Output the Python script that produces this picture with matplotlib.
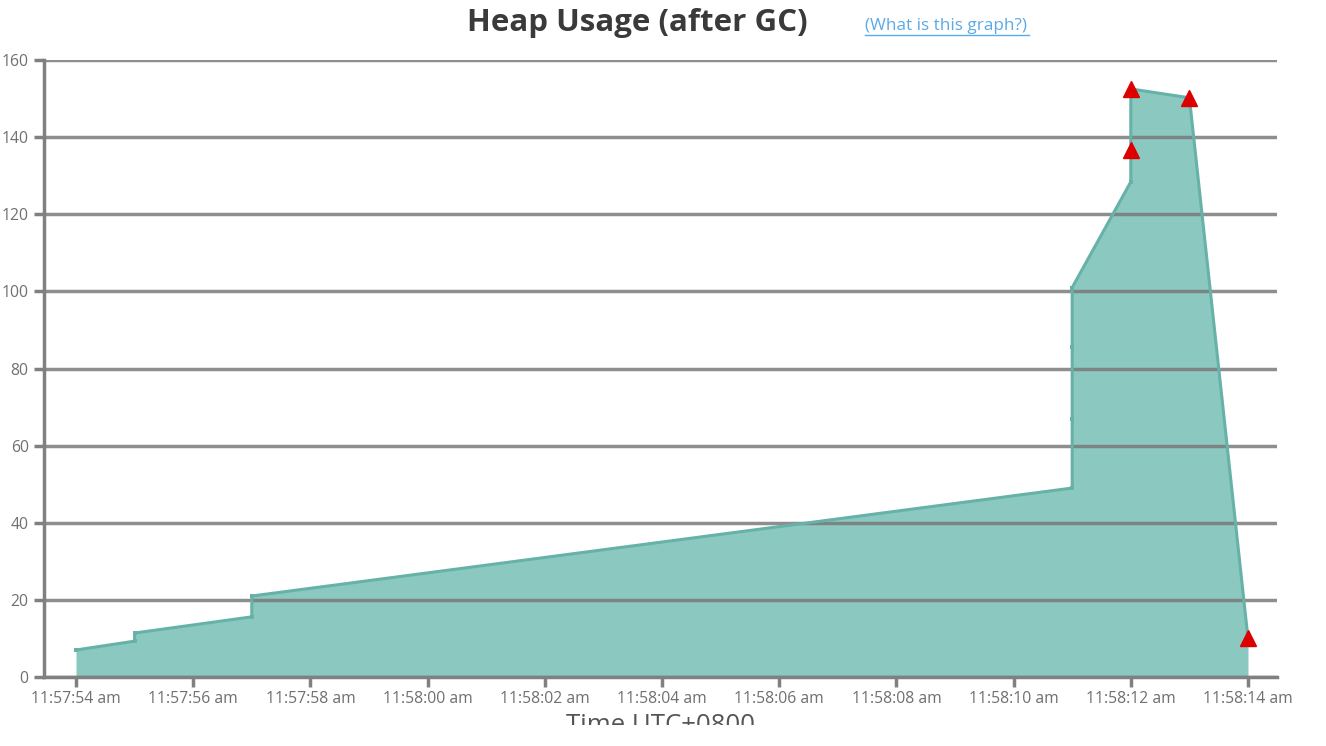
import matplotlib
matplotlib.use("Agg")
import matplotlib.pyplot as plt
from matplotlib.patches import Rectangle

# Data: seconds after 11:57:54, heap usage (MB)
t_sec = [0, 1, 1, 3, 3, 17, 17, 17, 17, 18, 18, 18, 19, 20]
heap = [7.0, 9.3, 11.4, 15.6, 21.0, 49.0, 67.0, 85.6, 101.0, 128.4, 136.7, 152.5, 150.2, 10.0]
full_gc_t = [18, 18, 19, 20]
full_gc_heap = [136.7, 152.5, 150.2, 10.0]
xtick_secs = [0, 2, 4, 6, 8, 10, 12, 14, 16, 18, 20]
xtick_labels = ["11:57:54 am", "11:57:56 am", "11:57:58 am", "11:58:00 am",
                "11:58:02 am", "11:58:04 am", "11:58:06 am", "11:58:08 am",
                "11:58:10 am", "11:58:12 am", "11:58:14 am"]
ytick_vals = [0, 20, 40, 60, 80, 100, 120, 140, 160]

plt.rcParams['font.family'] = ['Open Sans', 'DejaVu Sans']

fig = plt.figure(figsize=(13.26, 7.46), dpi=100)
ax = fig.add_axes([44/1326, 1-677/746, (1277-44)/1326, (677-60)/746])

ax.fill_between(t_sec, heap, 0, color='#8bc9c0', zorder=2, linewidth=0)
ax.plot(t_sec, heap, color='#66b2a8', linewidth=2.2, zorder=4,
        marker='s', markersize=2.5, markerfacecolor='#66b2a8', markeredgewidth=0)
ax.plot(full_gc_t, full_gc_heap, linestyle='none', marker='^', markersize=12,
        color='#dd0000', markeredgecolor='#dd0000', zorder=6, clip_on=False)

ax.set_xlim(-32/58.6, (1277-76)/58.6)
ax.set_ylim(0, 160)
ax.set_xticks(xtick_secs)
ax.set_xticklabels(xtick_labels)
ax.set_yticks(ytick_vals)
ax.set_yticklabels([str(v) for v in ytick_vals])

ax.grid(axis='y', color='#7a7a7a', linewidth=2.5, alpha=0.85, zorder=3)
ax.grid(axis='x', visible=False)
ax.set_axisbelow(False)
for s in ['top', 'right']:
    ax.spines[s].set_visible(False)
for s in ['left', 'bottom']:
    ax.spines[s].set_color('#808080')
    ax.spines[s].set_linewidth(2.5)
    ax.spines[s].set_zorder(5)
ax.tick_params(axis='both', colors='#808080', width=2.5, length=7,
               labelcolor='#707070', labelsize=11.3)
ax.tick_params(axis='x', pad=3)
ax.tick_params(axis='y', pad=4)

fig.text(637/1326, 1-23/746, "Heap Usage (after GC)", ha='center', va='center',
         fontsize=22.5, fontweight='bold', color='#3a3a3a')
fig.text(865/1326, 1-26/746, "(What is this graph?)", ha='left', va='center',
         fontsize=12.3, color='#5aaae6')
fig.add_artist(plt.Line2D([865/1326, 1029/1326], [1-35/746, 1-35/746],
                          color='#5aaae6', linewidth=1))

fig.text(661/1326, 1-726/746, "Time UTC+0800", ha='center', va='center',
         fontsize=18.5, color='#555555')
fig.add_artist(Rectangle((0, 0), 1, 1-725/746, transform=fig.transFigure,
                         facecolor='white', edgecolor='none', zorder=10))

fig.savefig("out.png", dpi=100, facecolor='white')
